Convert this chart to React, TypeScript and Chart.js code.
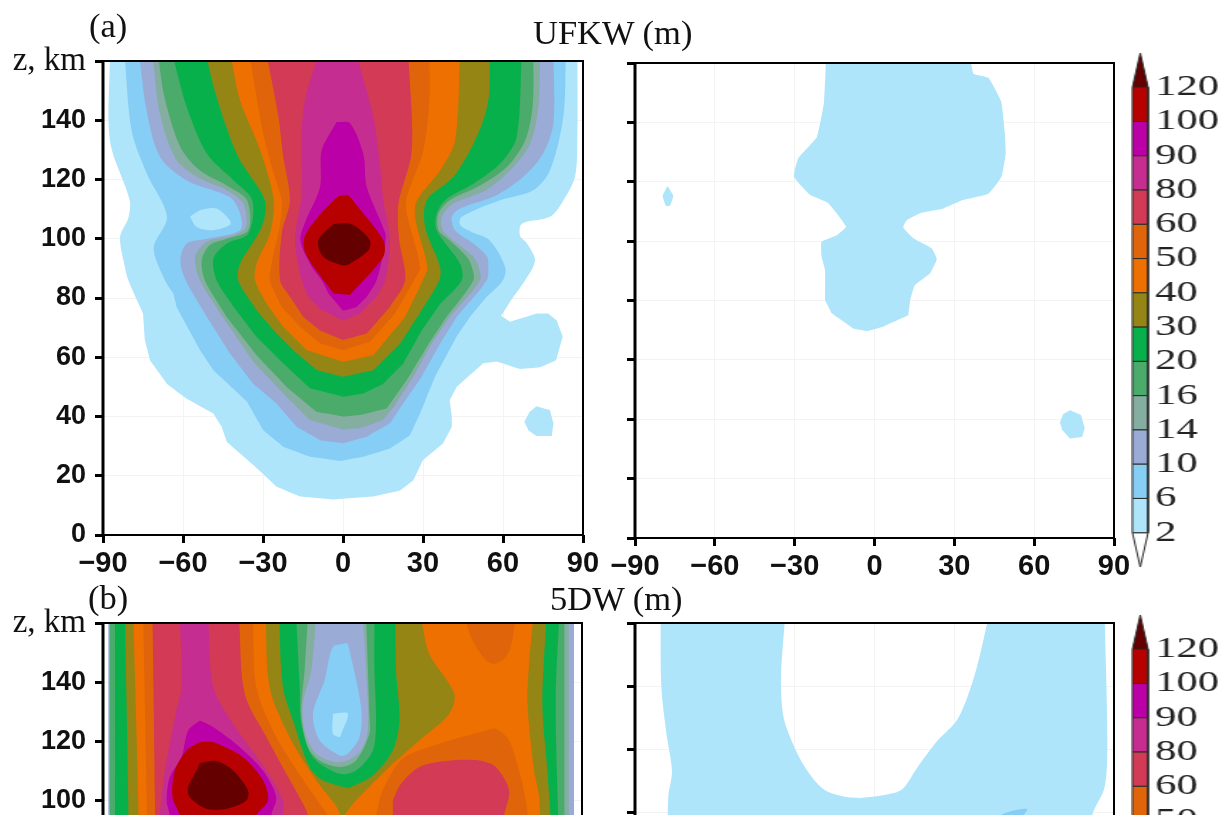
import React, { useEffect, useRef } from "react";
import { Chart, registerables } from "chart.js";

Chart.register(...registerables);

type Pt = [number, number];

const levelLabels = ["2", "6", "10", "14", "16", "20", "30", "40", "50", "60", "80", "90", "100", "120"];
const bandColors = ["#AEE5FB", "#86CEF5", "#9AABD6", "#84AE9F", "#4AAB6A", "#08B04C", "#958515", "#EE7000", "#E0650A", "#D23A55", "#C52E90", "#BA00A6", "#B70000"];
const topColor = "#640000";
const [c2, c6, c10, c14, c16, c20, c30, c40, c50, c60, c80, c90, c100] = bandColors;

// Panel (a), left
const a2: Pt[] = [[-87.4,162],[-87.4,133],[-80,113],[-80.5,107],[-83.6,100.6],[-81.8,90.5],[-80.5,86],[-75,74.8],[-74.3,65.8],[-72.4,59],[-66,51],[-58.6,46],[-48.6,41],[-45.5,36.5],[-43.6,31.5],[-33.6,23.6],[-24.9,16.3],[-16,13],[-3.6,12],[11.4,13],[21.4,15],[26.4,18.5],[30,25.3],[37.6,31],[40.8,36.5],[40.8,40],[40,45.5],[42.6,50],[52.6,58],[57.6,58.6],[66.4,56],[73.9,56.6],[79.9,59],[82.4,67],[80.1,72.5],[77,74.8],[72.6,74.8],[62.6,72],[59.3,74],[63.9,80.4],[68.3,86],[72,92.7],[69,98.4],[66.4,101],[67,105],[77.6,107.4],[82,112],[87,121],[87.9,135.5],[87.9,162]];
const a2Blob: Pt[] = [[72.6,43.5],[77.6,42.2],[78.9,37.7],[78.3,33.4],[72.6,33.4],[69.5,35.4],[68,38.2],[70,41.6],[72.6,43.5]];
const a6: Pt[] = [[-81.9,162],[-79.3,136.6],[-73.6,122],[-66,107.4],[-71,97],[-66.8,86],[-63.6,81.5],[-62.4,77],[-53.6,62.4],[-48.6,55.6],[-36,45],[-29.9,35.4],[-22.4,29.8],[-12.4,26.4],[-1,25],[7.6,26.4],[17.6,29.2],[25.1,33.7],[28.9,41],[34.5,53.4],[42.6,67],[47.6,73.6],[53.9,80.4],[60,86],[60.8,90.5],[55,99.5],[48.2,102.3],[43.9,104.6],[44.5,107.4],[58.9,113],[71.4,116.4],[77.6,123],[82.6,141],[83.6,162]];
const a2Hole: Pt[] = [[-57.4,107.4],[-53.6,109.6],[-47.4,110.2],[-42.4,106.2],[-42.4,104.6],[-48.6,102.9],[-54.9,104],[-57.4,107.4]];
const a10: Pt[] = [[-76.4,162],[-73.6,143],[-68.6,127.6],[-58.6,119.7],[-42.4,114],[-38.6,108.5],[-38.6,102.9],[-51,100],[-58.6,98.4],[-61,92.7],[-59,86],[-51,73.6],[-42.4,61.3],[-33.6,51],[-24.9,44.4],[-17.4,36.5],[-8.6,32],[0,31],[8.9,33.2],[17.6,37.7],[22.6,44.4],[29.5,53.4],[36.4,64.6],[42.6,73.6],[53.9,86],[54.5,90.5],[54,93.9],[48.9,98.4],[42,102.9],[40.8,107.4],[43.9,110.2],[57.6,114.7],[67.6,120.9],[75,128.7],[78.9,139],[78.9,162]];
const a14: Pt[] = [[-71.4,162],[-68.6,142],[-62.4,126.5],[-53.6,120.3],[-43.6,116.4],[-37.4,111.9],[-36.4,104],[-41,101.2],[-51,99],[-55.5,93.9],[-53.6,86],[-46,74.8],[-33.6,58.5],[-22.4,47.8],[-12.4,38.8],[0,35.6],[6.4,36],[15,38.8],[19.5,43.8],[26.4,53.4],[33.2,64.6],[40,73.6],[51.4,86],[50.8,90.5],[48.9,93.9],[42,99],[37.4,102.9],[37,107.4],[41.4,111.9],[53.6,116.4],[62.6,123],[70.1,132],[73.3,144.5],[73.9,162]];
const a16: Pt[] = [[-69.3,162],[-67,148],[-61,131],[-53.6,123],[-43.6,118],[-36,113],[-35.5,102.9],[-43.6,100],[-50,97.8],[-53,92.7],[-51.8,86],[-43.6,73.6],[-32.4,60.7],[-21.1,50],[-9.9,41.6],[0,40],[6.4,40.5],[16.4,42.7],[23.9,52.3],[31.4,63.5],[38.3,73],[48.9,86],[48.3,90.5],[46.4,93.9],[40,99.5],[35.8,102.9],[35.8,108.5],[40,113],[51.4,118],[61.4,124.2],[68.3,133.2],[71.1,144.5],[71.4,162]];
const a20: Pt[] = [[-63.9,162],[-58.6,144.5],[-51,128.7],[-41,119.7],[-34,113],[-35.5,101.7],[-43.6,98.4],[-48.6,93.3],[-47.4,86],[-41,77],[-32.4,66.9],[-23.6,59],[-12.4,49.5],[0,46.7],[7.6,47.8],[15,51],[22.6,57.9],[29.5,69],[36.4,78],[44.5,86],[43.9,91.6],[35.1,102.9],[35.1,108.5],[38.9,113.5],[48.9,118.6],[58.9,125.4],[65.1,134.3],[67,162]];
const a30: Pt[] = [[-51.4,162],[-47.4,147.8],[-39.3,127.6],[-29.3,113],[-30.5,104],[-38.6,91.6],[-39.3,86],[-32.4,75.9],[-24.9,68],[-18.6,62.4],[-9.9,55.7],[0,53.4],[11.4,55.6],[21.4,64.6],[29.5,75.9],[36.1,86],[36.4,90.5],[30.8,104],[31.4,113],[41.4,120.9],[50.1,134.3],[54.5,146.7],[55.1,162]];
const a40: Pt[] = [[-42.1,162],[-38.6,146.7],[-31,129.8],[-26,113],[-27.4,101.7],[-32.4,91.6],[-33,86],[-28.6,78],[-22.4,70.3],[-13.6,62.4],[0,58.5],[11.4,60.7],[23.3,73.6],[29.9,86],[31.6,90.5],[27,110.7],[36.4,123],[42,133],[43.9,162]];
const a50: Pt[] = [[-35.1,162],[-29.9,135.5],[-26,122],[-23,113],[-23.6,105],[-26.8,91.6],[-27.4,86],[-23,77],[-16,70.3],[-8.6,64.6],[0,62.4],[10.1,65.2],[19.5,74.8],[26.6,86],[28.9,90.5],[23.9,108.5],[23.9,114],[30.1,129.8],[32.4,146.7],[32.4,162]];
const a60: Pt[] = [[-28.6,162],[-24.2,141],[-22.4,127.6],[-19.9,113],[-23,101.7],[-23.6,86],[-19.9,80.4],[-14.9,73.6],[-8.6,69],[0,65.8],[8.9,68],[17.6,77],[23.3,86],[21,100],[20.8,111.9],[25.8,129.8],[24.5,162]];
const a80: Pt[] = [[-9.3,162],[-14.3,146.7],[-15.5,135.5],[-15.5,115],[-18,99.5],[-15.5,86],[-13,80.4],[-8.6,76.4],[0,72.3],[6.4,74.8],[12.6,80.4],[15.8,86],[17.6,99.5],[15.1,113],[13.9,125],[11.4,141],[5.1,162]];
const a90: Pt[] = [[-2.4,139.4],[-8,129.8],[-8.6,117.5],[-14,106],[-16,99.5],[-12,91],[-8,86],[-5.5,81.5],[0,75.7],[5.1,77],[8.9,80.4],[12.6,86],[15.8,98.4],[15.8,102],[8.9,117.5],[7.6,128.7],[2.6,139],[-2.4,139.4]];
const a100: Pt[] = [[0,114.7],[-2.4,114],[-14,101.7],[-14,95],[-3.6,81.5],[2.6,81],[15.1,93.9],[15.1,99.5],[5.1,111.3],[2,114.7],[0,114.7]];
const a120: Pt[] = [[-3.6,105],[-9.3,99.5],[-7.4,93.9],[0,91],[2.6,91.6],[9.5,96],[10.1,99.5],[5.1,104],[1.4,105.3],[-3.6,105]];

// Panel (a), right
const ar2: Pt[] = [[-18.2,162],[-19,146.5],[-21.7,135],[-28.6,128],[-30.3,121.8],[-24.2,115.6],[-17.4,112.8],[-10.7,104.9],[-14.2,102],[-19.9,99.8],[-19.9,94.8],[-18.6,90.3],[-18.6,80.2],[-16.1,75.7],[-8,70.6],[-2.7,69.7],[3.3,71.2],[12.7,75],[13.4,80.2],[15.2,85.2],[20.9,89.2],[23.4,93.9],[21.5,97.6],[14.6,101],[10.8,104.6],[12.1,107],[17.1,109.4],[25.9,111],[33.4,113.9],[42.8,116],[47.8,121.8],[49.3,129.6],[49,136.4],[47.6,147],[42.8,155],[37.2,156.4],[36,162]];
const ar2Diamond: Pt[] = [[-77.8,118.6],[-75.6,115.3],[-76.9,111.9],[-78.4,111.9],[-79.6,115.3],[-77.8,118.6]];
const ar2Blob: Pt[] = [[73.5,43],[77.6,41.4],[79,37],[78,34],[73.5,33.5],[70.5,36.5],[69.7,39],[70.9,41.7],[73.5,43]];

// Panel (b), left
const b10: Pt[] = [[-88,162],[-88,85],[87,85],[87,162]];
const b6: Pt[] = [[1.4,153.2],[2,153],[7,131.6],[6.4,121.5],[2,115.9],[-1.1,115.3],[-8.6,120.4],[-11.1,129.4],[-6.75,140.6],[-3.6,151.9],[1.4,153.2]];
const b2: Pt[] = [[-3.6,129.4],[2,129.4],[-0.5,122.6],[-1.1,121.5],[-3.6,122.6],[-3.6,129.4]];
const b14: Pt[] = [[-87.6,162],[-87.6,85],[85,85],[85,162],[7.6,162],[8.9,144],[9.5,123.7],[6.4,116.4],[-1.1,113],[-9.9,115.9],[-14.25,123.7],[-14.9,132.7],[-11.75,144],[-9.9,162]];
const b16: Pt[] = [[-87.4,162],[-87.4,85],[83.4,85],[83.4,162],[8.9,162],[10.1,129.4],[10.1,122.6],[5.1,113.6],[-1.1,111.4],[-8.6,113.6],[-13,118.1],[-15.5,129.4],[-14.25,144],[-13,162]];
const b20: Pt[] = [[-85.5,162],[-85.5,85],[81.4,85],[80.1,132.7],[81.4,162],[12,162],[12,144],[12.6,127.1],[11.4,117],[5.1,110.2],[-1.1,109.1],[-11.1,114.7],[-15.5,126],[-16.1,138.4],[-17.4,162]];
const b30: Pt[] = [[-81.75,162],[-80.5,100],[-80.5,85],[78.9,85],[77,110],[75.1,132.7],[76.6,162],[19.9,162],[20.1,144],[21.4,127.1],[18.9,117],[11.4,108.5],[2.6,104.4],[1.4,104.4],[-7.4,106.9],[-12.4,111.4],[-18.6,127.1],[-22.4,138.4],[-23.9,162]];
const b40: Pt[] = [[-78.6,162],[-76.75,100],[-76.75,85],[74.5,85],[73.9,101.2],[72,110.2],[69.5,132.7],[70.1,146.2],[71.75,162],[29.5,162],[32.6,149.6],[42,136.1],[40.1,129.4],[28.9,120.4],[17.6,111.4],[5.1,100.1],[1.4,96],[0,93],[-1.1,96],[-3,99],[-9.9,106.9],[-19.9,121.5],[-27.4,138.4],[-28.9,162]];
const b50Left: Pt[] = [[-74.9,162],[-73.6,100],[-73.6,85],[-3,85],[-5.5,95],[-8.6,99],[-15.5,108],[-24.9,121.5],[-32.4,138.4],[-33.6,162]];
const b50Top: Pt[] = [[45.75,162],[48.9,154],[53.9,147.4],[57,146.2],[60.75,147.9],[63.25,151.9],[65.1,162]];
const b50Low: Pt[] = [[12.6,95],[15.1,103.5],[22.6,114.2],[36.4,119.2],[53.9,123.7],[57.6,124.3],[62.6,120.4],[67,108],[68.9,100.1],[69.5,95],[69.5,85],[12,85]];
const b60Left: Pt[] = [[-71.4,162],[-70.5,100],[-70.5,85],[-13,85],[-13,95],[-15.5,100.1],[-21.1,109.1],[-28.6,121.5],[-36.75,136.1],[-38.9,162]];
const b60Right: Pt[] = [[18.9,100.1],[22,105.7],[28.9,111.4],[38.9,113.4],[51.4,113.6],[57.6,111.4],[62.6,103.5],[60.75,95],[60,85],[19,85]];
const b80: Pt[] = [[-61.1,162],[-60.5,138.4],[-62.4,130.5],[-66.75,110.2],[-68.6,95],[-68.6,85],[-20,85],[-22.4,95],[-22.4,100.1],[-28.6,110.2],[-41.1,126],[-48.6,138.4],[-50.5,162]];
const b90: Pt[] = [[-53.6,127.1],[-58,123.7],[-60.5,114.7],[-64.9,108],[-66.1,100.1],[-64.9,95],[-64.9,85],[-26,85],[-26.75,95],[-24.9,101.2],[-29.9,110.2],[-38.6,118.1],[-48.6,124.9],[-53.6,127.1]];
const b100: Pt[] = [[-53.6,119.8],[-58.6,117],[-63,110.2],[-63.9,101.2],[-61.1,95],[-60,85],[-35,85],[-32.4,95],[-28,100.1],[-29.9,106.9],[-37.4,114.7],[-48.6,119.8],[-53.6,119.8]];
const b120: Pt[] = [[-53.6,112.7],[-47.4,113.4],[-41.1,110.2],[-35.5,103.5],[-36.1,100.1],[-43.6,97.3],[-51.1,97.3],[-57.4,101.2],[-58,104.6],[-54.9,110.2],[-53.6,112.7]];

// Panel (b), right
const br2: Pt[] = [[-80.4,162],[-80.1,139.7],[-78.2,125],[-76.1,112.8],[-77.5,104.8],[-77.8,85],[80,85],[80.7,95],[82.1,99.8],[86.5,108],[87.5,121.7],[86.5,162],[42.9,162],[37.8,144],[31.3,129.6],[23.3,122.3],[16,114],[11,107.7],[7.4,106],[-7.1,104.5],[-18.7,107],[-26.7,115],[-33.3,127.3],[-34.8,134],[-35.1,144],[-33.6,162]];
const br6: Pt[] = [[42.9,97],[49.4,99.8],[57.4,100.9],[53.8,97],[52.4,95],[47,85],[42.2,95]];

type Layer = [Pt[], string];
const panelALeft: Layer[] = [[a2,c2],[a2Blob,c2],[a6,c6],[a2Hole,c2],[a10,c10],[a14,c14],[a16,c16],[a20,c20],[a30,c30],[a40,c40],[a50,c50],[a60,c60],[a80,c80],[a90,c90],[a100,c100],[a120,topColor]];
const panelARight: Layer[] = [[ar2,c2],[ar2Diamond,c2],[ar2Blob,c2]];
const panelBLeft: Layer[] = [[b10,c10],[b6,c6],[b2,c2],[b14,c14],[b16,c16],[b20,c20],[b30,c30],[b40,c40],[b50Left,c50],[b50Top,c50],[b50Low,c50],[b60Left,c60],[b60Right,c60],[b80,c80],[b90,c90],[b100,c100],[b120,topColor]];
const panelBRight: Layer[] = [[br2,c2],[br6,c6]];

const SERIF = "'Liberation Serif', serif";
const SANS = "'Liberation Sans', sans-serif";

const framePlugin = {
  id: "frame",
  afterDatasetsDraw(chart: any) {
    const { ctx, chartArea: a } = chart;
    ctx.save();
    ctx.strokeStyle = "#000";
    ctx.lineWidth = 2;
    ctx.strokeRect(a.left, a.top, a.right - a.left, a.bottom - a.top);
    ctx.lineWidth = 3;
    ctx.beginPath();
    ctx.moveTo(a.left, a.top);
    ctx.lineTo(a.left, a.bottom);
    ctx.stroke();
    ctx.restore();
  },
};

// Points outside the plot (closing edges of a polygon) are doubled so the curve keeps a sharp corner there.
function layerDatasets(layers: Layer[], tension: number) {
  return [...layers].reverse().map(([pts, color]) => ({
    data: pts.flatMap(([x, y]) => (y >= 160 || y <= 85 ? [{ x, y }, { x, y }] : [{ x, y }])),
    showLine: true,
    fill: "shape",
    backgroundColor: color,
    borderWidth: 0,
    pointRadius: 0,
    tension,
  }));
}

function makePanel(canvas: HTMLCanvasElement, layers: Layer[], leftWidth: number, padTop: number, padRight: number, bottomHeight: number, showY: boolean, tension: number) {
  return new Chart(canvas, {
    type: "scatter",
    data: { datasets: layerDatasets(layers, tension) as any },
    plugins: [framePlugin],
    options: {
      responsive: false,
      animation: false,
      layout: { padding: { top: padTop, right: padRight, left: 0, bottom: 0 } },
      plugins: { legend: { display: false }, tooltip: { enabled: false }, title: { display: false } },
      scales: {
        x: {
          type: "linear",
          min: -90,
          max: 90,
          afterFit: (s: any) => { s.height = bottomHeight; },
          border: { display: false },
          grid: { color: "#f3f3f3", lineWidth: 1, borderDash: [1, 5], tickColor: "#000", tickWidth: 3, tickLength: 8, tickBorderDash: [] } as any,
          ticks: {
            stepSize: 30,
            autoSkip: false,
            maxRotation: 0,
            padding: 4,
            color: "#111",
            font: { family: SANS, size: 29, weight: "bold" },
            callback: (v: any) => (Number(v) < 0 ? "\u2212" + Math.abs(Number(v)) : String(v)),
          },
        },
        y: {
          type: "linear",
          min: 0,
          max: 160,
          afterFit: (s: any) => { s.width = leftWidth; },
          border: { display: false },
          grid: { color: "#f3f3f3", lineWidth: 1, borderDash: [1, 5], tickColor: "#000", tickWidth: 3, tickLength: 8, tickBorderDash: [] } as any,
          ticks: {
            display: showY,
            stepSize: 20,
            autoSkip: false,
            padding: 9,
            color: "#111",
            font: (c: any) =>
              c.tick && c.tick.value === 160
                ? { family: SERIF, size: 33, weight: "normal" }
                : { family: SANS, size: 27, weight: "bold" },
            callback: (v: any) => (Number(v) === 160 ? "z, km" : String(v)),
          },
        },
      },
    } as any,
  });
}

function makeColorbar(canvas: HTMLCanvasElement) {
  const rect = (i: number) => [{ x: 0, y: i }, { x: 0, y: i + 1 }, { x: 1, y: i + 1 }, { x: 1, y: i }, { x: 0, y: i }];
  const base = { showLine: true, fill: "shape", borderColor: "#2a2a2a", borderWidth: 1, pointRadius: 0, tension: 0, clip: false };
  const n = bandColors.length;
  const datasets = [
    ...bandColors.map((color, i) => ({ ...base, data: rect(i), backgroundColor: color })),
    { ...base, data: [{ x: 0, y: n }, { x: 0.5, y: n + 1 }, { x: 1, y: n }, { x: 0, y: n }], backgroundColor: topColor },
    { ...base, data: [{ x: 0, y: 0 }, { x: 0.5, y: -1 }, { x: 1, y: 0 }, { x: 0, y: 0 }], backgroundColor: "#ffffff" },
  ];
  return new Chart(canvas, {
    type: "scatter",
    data: { datasets: datasets as any },
    options: {
      responsive: false,
      animation: false,
      layout: { padding: { top: 18, bottom: 30, left: 1, right: 0 } },
      plugins: { legend: { display: false }, tooltip: { enabled: false } },
      scales: {
        x: { type: "linear", min: 0, max: 1, display: false },
        y: {
          type: "linear",
          position: "right",
          min: -1,
          max: n + 1,
          afterFit: (s: any) => { s.width = 59; },
          border: { display: false },
          grid: { display: false, drawTicks: false, tickLength: 0 },
          ticks: {
            stepSize: 1,
            autoSkip: false,
            padding: 5,
            color: "#222",
            font: { family: SERIF, size: 30, weight: "normal" },
            callback: (v: any) => levelLabels[Number(v)] ?? "",
          },
        },
      },
    } as any,
  });
}

const textStyle = (left: number, top: number): React.CSSProperties => ({
  position: "absolute",
  left,
  top,
  fontFamily: SERIF,
  fontSize: 34.5,
  lineHeight: "34px",
  color: "#111",
  whiteSpace: "nowrap",
});

const abs = (left: number, top: number, extra: React.CSSProperties = {}): React.CSSProperties => ({ position: "absolute", left, top, ...extra });

export default function App() {
  const aL = useRef<HTMLCanvasElement>(null);
  const aR = useRef<HTMLCanvasElement>(null);
  const bL = useRef<HTMLCanvasElement>(null);
  const bR = useRef<HTMLCanvasElement>(null);
  const cA = useRef<HTMLCanvasElement>(null);
  const cB = useRef<HTMLCanvasElement>(null);

  useEffect(() => {
    const charts = [
      makePanel(aL.current!, panelALeft, 103, 61, 37, 65, true, 0.3),
      makePanel(aR.current!, panelARight, 35, 63, 26, 62, false, 0.12),
      makePanel(bL.current!, panelBLeft, 103, 53, 38, 53, true, 0.3),
      makePanel(bR.current!, panelBRight, 35, 23, 26, 53, false, 0.3),
      makeColorbar(cA.current!),
      makeColorbar(cB.current!),
    ];
    return () => charts.forEach((c) => c.destroy());
  }, []);

  const stretch: React.CSSProperties = { transform: "scaleX(1.42)", transformOrigin: "0 0" };

  return (
    <div style={{ position: "absolute", left: 0, top: 0, width: 1227, height: 815, overflow: "hidden", background: "#fff" }}>
      <canvas ref={aL} width={620} height={600} style={abs(0, 0)} />
      <canvas ref={aR} width={540} height={600} style={abs(600, 0)} />
      <canvas ref={bL} width={620} height={580} style={abs(0, 570)} />
      <canvas ref={bR} width={540} height={580} style={abs(600, 600)} />
      <canvas ref={cA} width={71} height={567} style={abs(1131, 30, stretch)} />
      <canvas ref={cB} width={71} height={567} style={abs(1131, 592, stretch)} />
      <div style={textStyle(89, 8)}>(a)</div>
      <div style={textStyle(533, 15)}>UFKW (m)</div>
      <div style={textStyle(88, 580)}>(b)</div>
      <div style={textStyle(550, 581)}>5DW (m)</div>
    </div>
  );
}
